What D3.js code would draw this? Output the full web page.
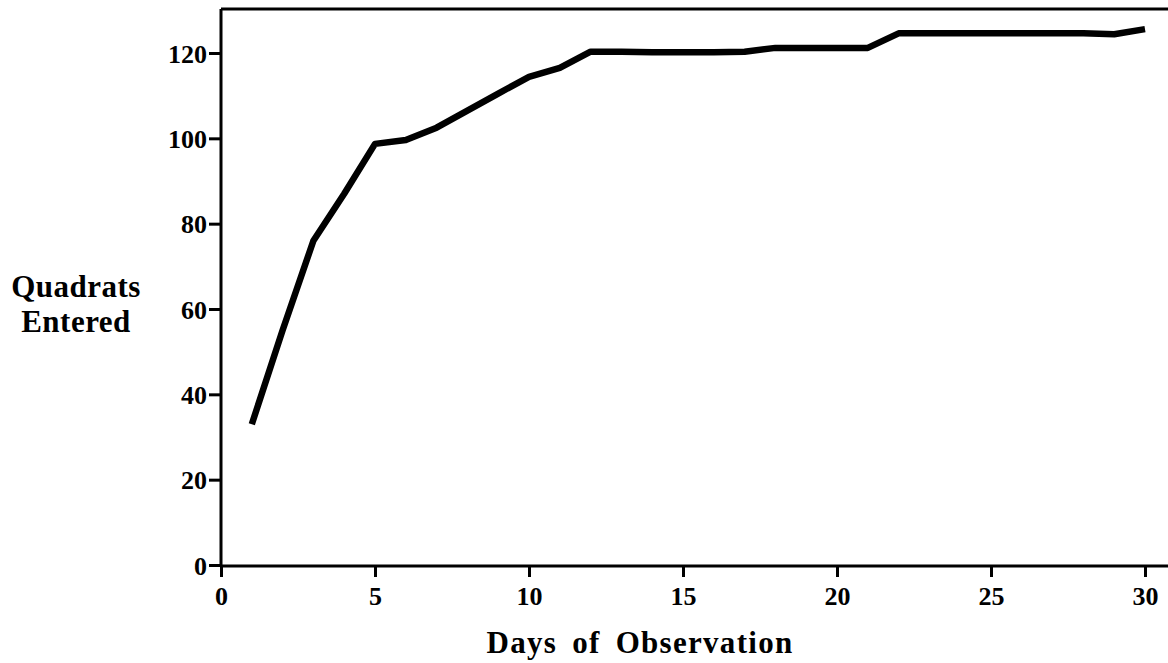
<!DOCTYPE html>
<html>
<head>
<meta charset="utf-8">
<script src="https://cdn.jsdelivr.net/npm/d3@7"></script>
<style>
  html, body { margin: 0; padding: 0; background: #fff; }
  svg { display: block; }
  text { font-family: "Liberation Serif", "DejaVu Serif", serif; font-weight: bold; fill: #000; }
</style>
</head>
<body>
<svg id="chart" width="1168" height="663"></svg>
<script>
const days = [1,2,3,4,5,6,7,8,9,10,11,12,13,14,15,16,17,18,19,20,21,22,23,24,25,26,27,28,29,30];
const quadrats = [33,55,76,87,98.7,99.6,102.5,106.5,110.5,114.4,116.5,120.3,120.3,120.2,120.2,120.2,120.3,121.2,121.2,121.2,121.2,124.6,124.6,124.6,124.6,124.6,124.6,124.6,124.4,125.6];
const xTicks = [0,5,10,15,20,25,30];
const yTicks = [0,20,40,60,80,100,120];
const xTitle = "Days of Observation";
const yTitle = ["Quadrats", "Entered"];

const svg = d3.select("#chart");
const x = d3.scaleLinear().domain([0, 30]).range([221, 1145]);
const y = d3.scaleLinear().domain([0, 120]).range([565, 53]);

// frame top (right side runs off the image)
svg.append("line").attr("x1", 221).attr("x2", 1175).attr("y1", 9).attr("y2", 9)
  .attr("stroke", "#000").attr("stroke-width", 3);

const xAxis = svg.append("g").attr("transform", "translate(0,566)")
  .call(d3.axisBottom(x).tickValues(xTicks).tickSize(11).tickPadding(10).tickFormat(d3.format("d")));
xAxis.select(".domain").attr("d", "M221,0H1175").attr("stroke-width", 3);
xAxis.selectAll(".tick line").attr("stroke-width", 3);
xAxis.selectAll(".tick text").attr("font-size", 26).attr("dy", "0.71em");

const yAxis = svg.append("g").attr("transform", "translate(221,0)")
  .call(d3.axisLeft(y).tickValues(yTicks).tickSize(12).tickPadding(2).tickFormat(d3.format("d")));
yAxis.select(".domain").attr("d", "M0,9V566").attr("stroke-width", 3);
yAxis.selectAll(".tick line").attr("stroke-width", 3);
yAxis.selectAll(".tick text").attr("font-size", 26).attr("dy", "0.35em");
svg.selectAll(".domain").attr("stroke", "#000");
svg.selectAll(".tick line").attr("stroke", "#000");
svg.selectAll(".tick text").style("font-family", '"Liberation Serif", serif').style("font-weight", "bold").attr("fill", "#000");

const line = d3.line().x((d, i) => x(days[i])).y(d => y(d));
svg.append("path").datum(quadrats).attr("d", line)
  .attr("fill", "none").attr("stroke", "#000").attr("stroke-width", 6.5)
  .attr("stroke-linejoin", "round").attr("stroke-linecap", "butt");

svg.append("text").attr("x", 640).attr("y", 653).attr("text-anchor", "middle")
  .attr("font-size", 31).attr("letter-spacing", 1.3).attr("word-spacing", 6).text(xTitle);

svg.append("text").attr("x", 76).attr("y", 297).attr("text-anchor", "middle")
  .attr("font-size", 31).attr("letter-spacing", 0.5).text(yTitle[0]);
svg.append("text").attr("x", 76).attr("y", 332).attr("text-anchor", "middle")
  .attr("font-size", 31).attr("letter-spacing", 0.5).text(yTitle[1]);
</script>
</body>
</html>
